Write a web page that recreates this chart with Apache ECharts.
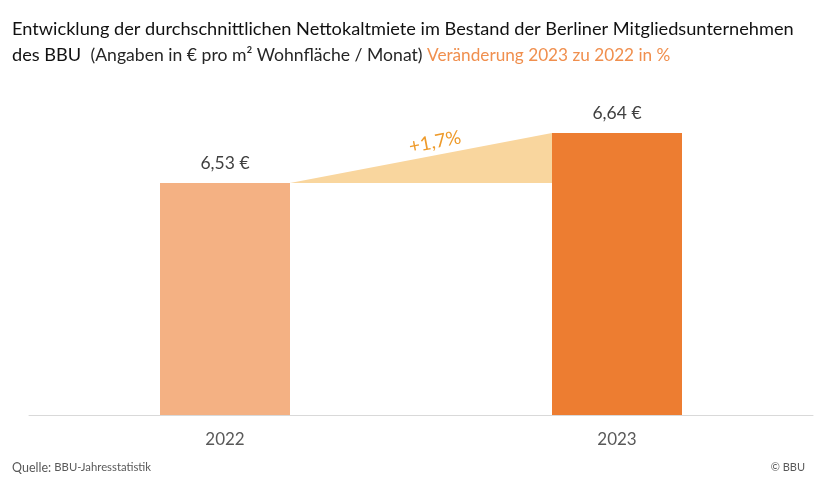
<!DOCTYPE html>
<html><head><meta charset="utf-8">
<script src="https://cdn.jsdelivr.net/npm/echarts@6/dist/echarts.min.js"></script>
<style>html,body{margin:0;padding:0;background:#fff}#c{width:826px;height:481px}</style>
</head><body><div id="c"></div>
<script>
const categories = ['2022', '2023'];
const values = [6.53, 6.64];
const valueLabels = ['6,53 €', '6,64 €'];
const changeLabel = '+1,7%';
const titleLine1 = 'Entwicklung der durchschnittlichen Nettokaltmiete im Bestand der Berliner Mitgliedsunternehmen';
const titleLine2a = 'des BBU  ';
const titleLine2b = '(Angaben in € pro m² Wohnfläche / Monat) ';
const titleLine2c = 'Veränderung 2023 zu 2022 in %';

const FONT = 'Lato, "Noto Sans", sans-serif';
const chart = echarts.init(document.getElementById('c'), null, {renderer: 'canvas'});
const BAR_W = 130;

chart.setOption({
  animation: false,
  backgroundColor: '#fff',
  grid: {left: 29, right: 13, top: 105.7, bottom: 66},
  xAxis: {
    type: 'category', data: categories,
    axisLine: {show: true, lineStyle: {color: '#d9d9d9', width: 1}},
    axisTick: {show: false},
    axisLabel: {color: '#595959', fontSize: 17, fontFamily: FONT, margin: 16}
  },
  yAxis: {type: 'value', min: 6.02, max: 6.7, show: false, splitLine: {show: false}},
  graphic: [
    {type: 'text', left: 12, top: 20, style: {text: titleLine1, font: '18.2px ' + FONT, fill: '#111'}},
    {type: 'text', left: 12, top: 46, style: {
      text: '{a|' + titleLine2a + '}{b|' + titleLine2b + '}{c|' + titleLine2c + '}',
      rich: {
        a: {fontSize: 18.2, fontFamily: FONT, fill: '#111'},
        b: {fontSize: 17.6, fontFamily: FONT, fill: '#262626'},
        c: {fontSize: 17.2, fontFamily: FONT, fill: '#F08F4E'}
      }}},
    {type: 'text', left: 12, top: 461, style: {
      text: '{a|Quelle: }{b|BBU-Jahresstatistik}',
      rich: {
        a: {fontSize: 12.5, fontFamily: FONT, fill: '#595959'},
        b: {fontSize: 11.3, fontFamily: FONT, fill: '#595959'}
      }}},
    {type: 'text', right: 21, top: 462, style: {text: '© BBU', font: '11px ' + FONT, fill: '#595959'}}
  ],
  series: [
    {
      type: 'custom',
      z: 1,
      data: [[0, values[0], 1, values[1]]],
      renderItem: function (params, api) {
        const p0 = api.coord([api.value(0), api.value(1)]);
        const p1 = api.coord([api.value(2), api.value(3)]);
        const x0 = p0[0] + BAR_W / 2, x1 = p1[0] - BAR_W / 2;
        const y0 = p0[1], y1 = p1[1];
        const ang = Math.atan2(y0 - y1, x1 - x0);
        return {
          type: 'group',
          children: [
            {type: 'polygon', shape: {points: [[x0, y0], [x1, y1], [x1, y0]]}, style: {fill: '#F9D69E'}},
            {type: 'text', x: (x0 + x1) / 2 + 14, y: (y0 + y1) / 2 - 16, rotation: ang,
             style: {text: changeLabel, font: '19px ' + FONT, fill: '#EE9A2A', align: 'center', verticalAlign: 'middle'}}
          ]
        };
      }
    },
    {
      type: 'bar', barWidth: BAR_W, z: 2,
      data: values.map((v, i) => ({value: v, itemStyle: {color: i === 0 ? '#F4B183' : '#ED7D31'}})),
      label: {show: true, position: 'top', distance: 11, color: '#404040', fontSize: 17.5, fontFamily: FONT,
        formatter: p => valueLabels[p.dataIndex]}
    }
  ]
});
</script></body></html>
